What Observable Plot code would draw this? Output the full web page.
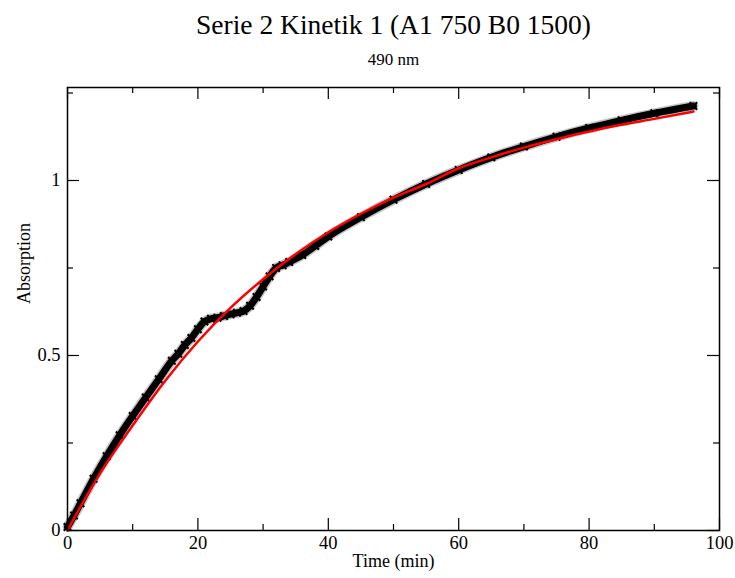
<!DOCTYPE html>
<html>
<head>
<meta charset="utf-8">
<script src="https://cdn.jsdelivr.net/npm/d3@7"></script>
<script src="https://cdn.jsdelivr.net/npm/@observablehq/plot@0.6"></script>
<style>
  html, body { margin: 0; padding: 0; background: #fff; overflow: hidden; }
  svg text { font-family: 'Liberation Serif', 'Times New Roman', serif; }
</style>
</head>
<body>
<div id="chart"></div>
<script>
const titleText = "Serie 2 Kinetik 1 (A1 750 B0 1500)";
const subtitleText = "490 nm";
const xLabel = "Time (min)";
const yLabel = "Absorption";

const xMajor = [0, 20, 40, 60, 80, 100];
const xMinor = [10, 30, 50, 70, 90];
const yMajor = [0, 0.5, 1];
const yMinor = [0.25, 0.75, 1.25];

// measured data (black crosses)
const measTime = [0, 1, 2, 4, 6, 8, 10, 12, 14, 16, 17, 18, 19, 20, 21, 22, 23, 24, 25, 26, 27, 28, 29, 30, 31, 32, 33, 34, 36, 38, 40, 45, 50, 55, 60, 65, 70, 75, 80, 85, 90, 96];
const measAbs  = [0.01, 0.043, 0.078, 0.148, 0.212, 0.272, 0.327, 0.38, 0.432, 0.485, 0.505, 0.53, 0.55, 0.575, 0.597, 0.605, 0.608, 0.613, 0.618, 0.622, 0.627, 0.642, 0.667, 0.697, 0.726, 0.75, 0.758, 0.767, 0.787, 0.813, 0.84, 0.895, 0.945, 0.99, 1.03, 1.066, 1.097, 1.125, 1.15, 1.172, 1.192, 1.213];

// fitted curve (red)
const fitTime = [0, 2, 5, 10, 15, 20, 25, 30, 35, 40, 45, 50, 55, 60, 65, 70, 75, 80, 85, 90, 96];
const fitAbs  = [0, 0.068, 0.163, 0.30, 0.428, 0.54, 0.636, 0.718, 0.79, 0.852, 0.905, 0.951, 0.99, 1.035, 1.066, 1.094, 1.118, 1.14, 1.159, 1.176, 1.197];

const meas = measTime.map((t, i) => ({t, a: measAbs[i]}));
const fit = fitTime.map((t, i) => ({t, a: fitAbs[i]}));

const W = 735, H = 578, mL = 67, mR = 16, mT = 87, mB = 48;
const fW = W - mL - mR, fH = H - mT - mB;
const font = "Liberation Serif";

const chart = Plot.plot({
  width: W,
  height: H,
  marginLeft: mL,
  marginRight: mR,
  marginTop: mT,
  marginBottom: mB,
  style: {fontFamily: font, color: "#000", background: "#fff"},
  x: {domain: [0, 100]},
  y: {domain: [0, 1.2657]},
  marks: [
    // inward ticks on all four sides
    Plot.tickX(xMajor, {x: d => d, insetTop: fH - 12, stroke: "#000", strokeWidth: 1.2}),
    Plot.tickX(xMinor, {x: d => d, insetTop: fH - 6, stroke: "#000", strokeWidth: 1.2}),
    Plot.tickX(xMajor, {x: d => d, insetBottom: fH - 12, stroke: "#000", strokeWidth: 1.2}),
    Plot.tickX(xMinor, {x: d => d, insetBottom: fH - 6, stroke: "#000", strokeWidth: 1.2}),
    Plot.tickY(yMajor, {y: d => d, insetRight: fW - 12, stroke: "#000", strokeWidth: 1.2}),
    Plot.tickY(yMinor, {y: d => d, insetRight: fW - 6, stroke: "#000", strokeWidth: 1.2}),
    Plot.tickY(yMajor, {y: d => d, insetLeft: fW - 12, stroke: "#000", strokeWidth: 1.2}),
    Plot.tickY(yMinor, {y: d => d, insetLeft: fW - 6, stroke: "#000", strokeWidth: 1.2}),
    // tick labels
    Plot.axisX({ticks: xMajor, tickSize: 0, tickPadding: 5, tickFormat: d => String(d), fontSize: 18.5, fontFamily: font, label: null}),
    Plot.axisY({ticks: yMajor, tickSize: 0, tickPadding: 7, tickFormat: d => String(d), fontSize: 18.5, fontFamily: font, label: null}),
    // measured series
    Plot.line(meas, {x: "t", y: "a", curve: "monotone-x", stroke: "#555", strokeWidth: 10, strokeOpacity: 0.35}),
    Plot.line(meas, {x: "t", y: "a", curve: "monotone-x", stroke: "#000", strokeWidth: 7}),
    Plot.dot(meas, {x: "t", y: "a", symbol: "times", r: 3.5, stroke: "#000", strokeWidth: 2}),
    // fit
    Plot.line(fit, {x: "t", y: "a", curve: "monotone-x", stroke: "#ff0000", strokeWidth: 2.5}),
    Plot.frame({stroke: "#000", strokeWidth: 1.5}),
    // titles and axis labels
    Plot.text([titleText], {frameAnchor: "top", dy: -73, fontSize: 27.5, fontFamily: font, fill: "#000"}),
    Plot.text([subtitleText], {frameAnchor: "top", dy: -35, fontSize: 17, fontFamily: font, fill: "#000"}),
    Plot.text([xLabel], {frameAnchor: "bottom", dy: 36, fontSize: 18, fontFamily: font, fill: "#000"}),
    Plot.text([yLabel], {frameAnchor: "left", dx: -43, dy: -5, rotate: -90, fontSize: 18, fontFamily: font, fill: "#000"})
  ]
});
document.getElementById("chart").appendChild(chart);
</script>
</body>
</html>
